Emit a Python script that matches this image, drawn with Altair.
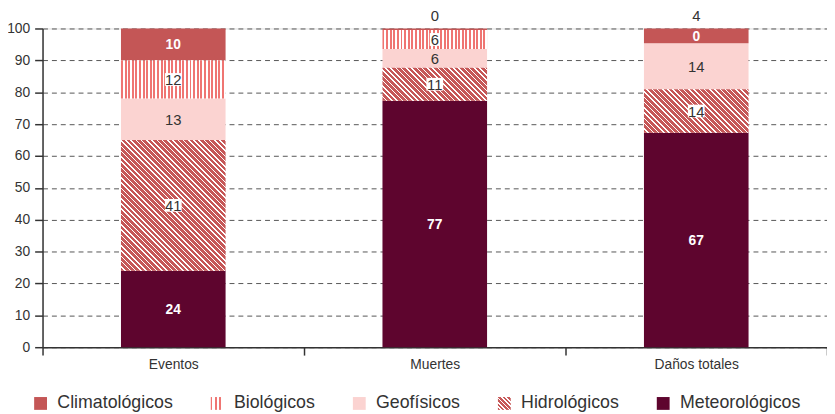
import altair as alt
import pandas as pd
import math

# ---------------- data ----------------
grupos = ["Eventos", "Muertes", "Daños totales"]
categorias = ["Meteorológicos", "Hidrológicos", "Geofísicos", "Biológicos", "Climatológicos"]  # bottom -> top
orden_leyenda = ["Climatológicos", "Biológicos", "Geofísicos", "Hidrológicos", "Meteorológicos"]

meteorologicos = [24.0, 77.3, 67.3]
hidrologicos = [41.0, 10.4, 13.6]
geofisicos = [13.0, 5.9, 14.5]
biologicos = [12.0, 5.9, 0.0]
climatologicos = [10.0, 0.5, 4.6]

etq_meteorologicos = ["24", "77", "67"]
etq_hidrologicos = ["41", "11", "14"]
etq_geofisicos = ["13", "6", "14"]
etq_biologicos = ["12", "6", "0"]
etq_climatologicos = ["10", "0", "4"]

valores = {
    "Meteorológicos": meteorologicos,
    "Hidrológicos": hidrologicos,
    "Geofísicos": geofisicos,
    "Biológicos": biologicos,
    "Climatológicos": climatologicos,
}
etiquetas = {
    "Meteorológicos": etq_meteorologicos,
    "Hidrológicos": etq_hidrologicos,
    "Geofísicos": etq_geofisicos,
    "Biológicos": etq_biologicos,
    "Climatológicos": etq_climatologicos,
}

# ---------------- style ----------------
FONT = "Liberation Sans, Arial, sans-serif"
C_CLIM = "#c45656"
C_BIO = "#ef7572"
C_GEO = "#fbd3d1"
C_HIDRO = "#c65757"
C_MET = "#5e052e"
TXT = "#333333"
CLEAR = "rgba(255,255,255,0)"

W_PLOT = 795
H_PLOT = 323
BAR_W = 106

rows = []
for gi, g in enumerate(grupos):
    for oi, cat in enumerate(categorias):
        rows.append({"grupo": g, "categoria": cat, "valor": valores[cat][gi], "orden": oi})
df = pd.DataFrame(rows)

# label table
lab = []
for gi, g in enumerate(grupos):
    cum = 0.0
    for cat in categorias:
        v = valores[cat][gi]
        t = etiquetas[cat][gi]
        mid = cum + v / 2
        if cat == "Meteorológicos":
            lab.append({"grupo": g, "texto": t, "ypos": mid, "estilo": "blanco", "caja": False})
        elif cat == "Climatológicos":
            if v >= 5:
                lab.append({"grupo": g, "texto": t, "ypos": mid, "estilo": "blanco", "caja": False})
            else:
                lab.append({"grupo": g, "texto": t, "ypos": 100.0, "estilo": "arriba", "caja": False})
        elif cat == "Biológicos":
            if v == 0:
                clim = valores["Climatológicos"][gi]
                lab.append({"grupo": g, "texto": t, "ypos": cum + clim / 2, "estilo": "blanco", "caja": False})
            else:
                lab.append({"grupo": g, "texto": t, "ypos": mid, "estilo": "oscuro", "caja": True})
        elif cat == "Hidrológicos":
            lab.append({"grupo": g, "texto": t, "ypos": mid, "estilo": "oscuro", "caja": True})
        else:
            lab.append({"grupo": g, "texto": t, "ypos": mid, "estilo": "oscuro", "caja": False})
        cum += v
dl = pd.DataFrame(lab)


# ---------------- pattern gradients (hatching) ----------------
def stripe_stops(color, n, frac, lead_clear=False, tail_clear=False, bg="#ffffff"):
    stops = []
    if lead_clear:
        stops.append({"offset": 0, "color": CLEAR})
    for i in range(n):
        a = i / n
        b = (i + frac) / n
        c = (i + 1) / n
        stops += [
            {"offset": round(a, 6), "color": color},
            {"offset": round(b, 6), "color": color},
            {"offset": round(b, 6), "color": bg},
            {"offset": round(c, 6), "color": bg},
        ]
    if tail_clear:
        stops.append({"offset": 1, "color": CLEAR})
    return stops


def vertical_parts(color, w, period, frac, m):
    n = max(1, math.ceil(w / period))
    parts = []
    nparts = math.ceil(n / m)
    for j in range(nparts):
        a = j * m * period
        b = a + m * period
        parts.append({"gradient": "linear", "x1": round(a / w, 6), "y1": 0,
                      "x2": round(b / w, 6), "y2": 0,
                      "stops": stripe_stops(color, m, frac, j > 0, j < nparts - 1)})
    return parts


def diag_parts(color, w, h, period, frac, m):
    # 45-degree "\" stripes, split into several gradients of m periods each
    n = max(1, math.ceil((w + h) / period))
    nparts = math.ceil(n / m)
    parts = []
    for j in range(nparts):
        a = -h + j * m * period
        b = a + m * period
        k = (b - a) / (w * w + h * h)
        y1 = -a / h
        parts.append({"gradient": "linear", "x1": 0, "y1": round(y1, 6),
                      "x2": round(w * k, 6), "y2": round(y1 - h * k, 6),
                      "stops": stripe_stops(color, m, frac, j > 0, j < nparts - 1)})
    return parts


def to_expr(g):
    stops = ",".join("{offset:%s,color:'%s'}" % (s["offset"], s["color"]) for s in g["stops"])
    return "{gradient:'linear',x1:%s,y1:%s,x2:%s,y2:%s,stops:[%s]}" % (
        g["x1"], g["y1"], g["x2"], g["y2"], stops)


bio_leg = vertical_parts(C_BIO, 13, 13 / 3, 0.35, 3)[0]
hidro_leg = diag_parts(C_HIDRO, 13, 13, 26 / 6, 0.62, 6)[0]

# ---------------- encodings ----------------
x_axis = alt.Axis(title=None, labelFontSize=14, labelColor=TXT, labelFont=FONT,
                  tickBand="extent", tickSize=8, tickColor=TXT, tickWidth=1.5,
                  domainColor=TXT, domainWidth=1.5, labelPadding=3, labelAngle=0,
                  grid=False)
y_axis = alt.Axis(title=None, values=list(range(0, 101, 10)), labelFontSize=14,
                  labelColor=TXT, labelFont=FONT, tickSize=8, tickColor=TXT,
                  tickWidth=1.5, domainColor=TXT, domainWidth=1.5, labelPadding=5,
                  grid=True, gridDash=[5, 4], gridColor="#555555", gridWidth=1)
x_scale = alt.Scale(domain=grupos, paddingInner=0, paddingOuter=0)
y_scale = alt.Scale(domain=[0, 100], nice=False)


def X():
    return alt.X("grupo:N", sort=grupos, scale=x_scale, axis=x_axis)


def Y(field):
    return alt.Y(field, scale=y_scale, axis=y_axis)


# ---------------- chart ----------------
base = alt.Chart(df).transform_stack(
    stack="valor", groupby=["grupo"], as_=["y0", "y1"],
    sort=[alt.SortField("orden", order="ascending")],
)

solid = base.transform_filter(
    alt.FieldOneOfPredicate(field="categoria", oneOf=["Climatológicos", "Geofísicos", "Meteorológicos"])
).mark_bar(size=BAR_W).encode(
    x=X(), y=Y("y0:Q"), y2="y1:Q",
    color=alt.Color(
        "categoria:N",
        scale=alt.Scale(domain=orden_leyenda,
                        range=[C_CLIM, alt.ExprRef(expr=to_expr(bio_leg)), C_GEO,
                               alt.ExprRef(expr=to_expr(hidro_leg)), C_MET]),
        legend=alt.Legend(title=None, orient="none", legendX=-11, legendY=371,
                          direction="horizontal", symbolType="square", symbolSize=169,
                          symbolStrokeWidth=0, labelFontSize=18, labelColor=TXT,
                          labelFont=FONT, labelOffset=8, columnPadding=35, padding=0),
    ),
)

layers = [solid]

# Biológicos: vertical hatching
for grad in vertical_parts(C_BIO, BAR_W, BAR_W / 29, 0.55, 15):
    layers.append(
        base.transform_filter(alt.datum.categoria == "Biológicos").mark_bar(
            size=BAR_W, fill=grad).encode(x=X(), y=Y("y0:Q"), y2="y1:Q")
    )

# Hidrológicos: diagonal hatching, per bar
for gi, g in enumerate(grupos):
    h = hidrologicos[gi] * H_PLOT / 100.0
    for grad in diag_parts(C_HIDRO, BAR_W, h, 5.3, 0.71, 12):
        layers.append(
            base.transform_filter(
                (alt.datum.categoria == "Hidrológicos") & (alt.datum.grupo == g)
            ).mark_bar(size=BAR_W, fill=grad).encode(x=X(), y=Y("y0:Q"), y2="y1:Q")
        )

lbase = alt.Chart(dl)
box2 = lbase.transform_filter("datum.caja && length(datum.texto) == 2").mark_point(
    shape="M-1,-0.76L1,-0.76L1,0.76L-1,0.76Z", size=289, filled=True, fill="white",
    opacity=1, strokeWidth=0).encode(x=X(), y=Y("ypos:Q"))
box1 = lbase.transform_filter("datum.caja && length(datum.texto) == 1").mark_point(
    shape="M-1,-1.3L1,-1.3L1,1.3L-1,1.3Z", size=100, filled=True, fill="white",
    opacity=1, strokeWidth=0).encode(x=X(), y=Y("ypos:Q"))

t_dark = lbase.transform_filter(alt.datum.estilo == "oscuro").mark_text(
    font=FONT, fontSize=15, color=TXT, baseline="middle", align="center", dy=1
).encode(x=X(), y=Y("ypos:Q"), text="texto:N")
t_white = lbase.transform_filter(alt.datum.estilo == "blanco").mark_text(
    font=FONT, fontSize=14, fontWeight="bold", color="white", baseline="middle",
    align="center", dy=1
).encode(x=X(), y=Y("ypos:Q"), text="texto:N")
t_top = lbase.transform_filter(alt.datum.estilo == "arriba").mark_text(
    font=FONT, fontSize=15, color=TXT, baseline="bottom", align="center", dy=-5
).encode(x=X(), y=Y("ypos:Q"), text="texto:N")

layers += [box2, box1, t_dark, t_white, t_top]

chart = alt.layer(*layers).properties(
    width=W_PLOT, height=H_PLOT,
    padding={"left": 35, "top": 18, "right": 0, "bottom": 70},
    autosize=alt.AutoSizeParams(type="none"),
).configure_view(stroke=None).configure(font=FONT)

chart.save("out.html", embed_options={"renderer": "svg", "actions": False})
